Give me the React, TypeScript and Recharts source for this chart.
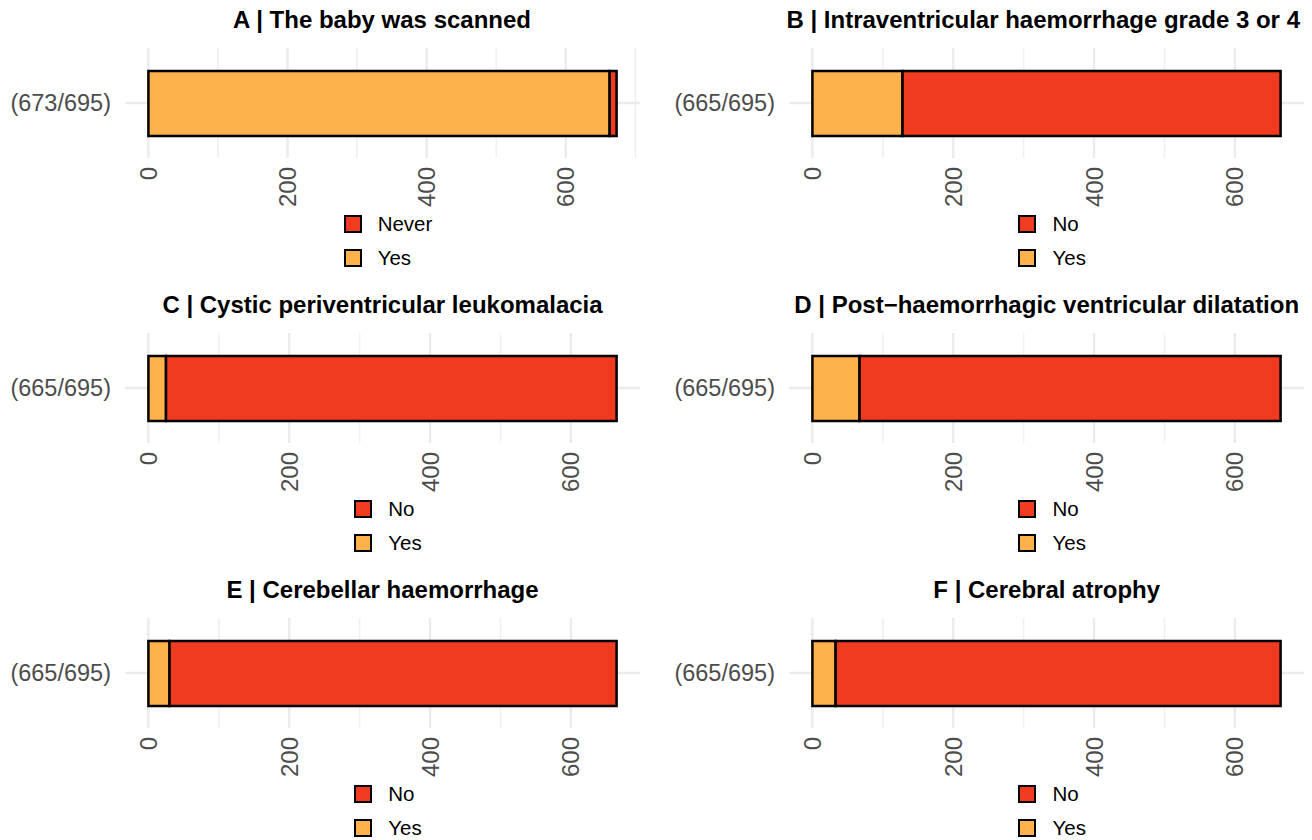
import React from 'react';
import { BarChart, Bar, XAxis, YAxis, CartesianGrid, Legend } from 'recharts';

// one horizontal stacked bar per outcome
const panelTitles = [
  'A | The baby was scanned',
  'B | Intraventricular haemorrhage grade 3 or 4',
  'C | Cystic periventricular leukomalacia',
  'D | Post\u2212haemorrhagic ventricular dilatation',
  'E | Cerebellar haemorrhage',
  'F | Cerebral atrophy',
];
const responseLabels = ['(673/695)', '(665/695)', '(665/695)', '(665/695)', '(665/695)', '(665/695)'];
const yesCounts = [663, 128, 25, 67, 30, 33];
const otherCounts = [10, 537, 640, 598, 635, 632];
const otherNames = ['Never', 'No', 'No', 'No', 'No', 'No'];
const majorTicks = [0, 200, 400, 600];
const minorTicks = [100, 300, 500, 700];

const YES_FILL = '#FEB24C';
const OTHER_FILL = '#F03B20';
const FONT = "'Liberation Sans', Arial, Helvetica, sans-serif";

const CHART_W = 656;
const CHART_H = 285;
const COL_STEP = 664.2;
const ROW_STEP = 285;
const Y_AXIS_W = 125;
const PLOT_W = 515;
const TITLE_FONT = `bold 24px ${FONT}`;

const ctx = typeof document !== 'undefined' ? document.createElement('canvas').getContext('2d') : null;
const textWidth = (text: string) => {
  if (!ctx) return 0;
  ctx.font = TITLE_FONT;
  return ctx.measureText(text).width;
};

const RotatedTick = ({ x, y, payload }: any) => (
  <text
    x={x}
    y={y}
    transform={`rotate(-90, ${x}, ${y})`}
    textAnchor="end"
    dominantBaseline="central"
    fill="#4d4d4d"
    fontSize={24}
    fontFamily={FONT}
  >
    {payload.value}
  </text>
);

const legendColors: Record<string, string> = { Yes: YES_FILL, Other: OTHER_FILL };

// "No"/"Never" above "Yes", as in the fill scale
const StackLegend = ({ payload }: any) => {
  const items = [...(payload || [])].sort((a: any, b: any) => (a.dataKey === 'Other' ? -1 : b.dataKey === 'Other' ? 1 : 0));
  return (
    <div style={{ display: 'flex', justifyContent: 'center' }}>
      <div style={{ display: 'flex', flexDirection: 'column', gap: 16 }}>
        {items.map((entry: any) => (
          <div key={entry.dataKey} style={{ display: 'flex', alignItems: 'center', height: 18 }}>
            <span
              style={{
                width: 14,
                height: 14,
                background: legendColors[entry.dataKey] || entry.color,
                border: '2px solid #000',
                marginRight: 16,
                display: 'inline-block',
              }}
            />
            <span style={{ fontSize: 20.5, color: '#000', fontFamily: FONT }}>{entry.value}</span>
          </div>
        ))}
      </div>
    </div>
  );
};

function Panel({ idx }: { idx: number }) {
  const col = idx % 2;
  const row = Math.floor(idx / 2);
  const left = col * COL_STEP;
  const top = row * ROW_STEP;
  const yes = yesCounts[idx];
  const other = otherCounts[idx];
  const total = yes + other;
  const lo = -0.05 * total;
  const hi = 1.05 * total;
  const data = [{ label: responseLabels[idx], Yes: yes, Other: other }];

  // centre the title over the panel, but keep it inside the page
  const title = panelTitles[idx];
  const tw = textWidth(title);
  const centre = Y_AXIS_W + PLOT_W / 2;
  const titleLeft = Math.min(centre - tw / 2, 1300 - left - tw);

  return (
    <div style={{ position: 'absolute', left, top, width: CHART_W, height: CHART_H }}>
      <div
        style={{
          position: 'absolute',
          top: 8,
          left: titleLeft,
          font: TITLE_FONT,
          lineHeight: 1,
          whiteSpace: 'nowrap',
          color: '#000',
        }}
      >
        {title}
      </div>
      <BarChart
        width={CHART_W}
        height={CHART_H}
        data={data}
        layout="vertical"
        margin={{ top: 48, right: CHART_W - Y_AXIS_W - PLOT_W, bottom: 67, left: 0 }}
      >
        <CartesianGrid xAxisId="minor" horizontal={false} syncWithTicks stroke="#f0f0f0" strokeWidth={1.6} />
        <CartesianGrid syncWithTicks stroke="#ebebeb" strokeWidth={2.5} />
        <XAxis
          xAxisId="minor"
          type="number"
          domain={[lo, hi]}
          allowDataOverflow
          ticks={minorTicks.filter(t => t <= hi)}
          hide
        />
        <XAxis
          type="number"
          domain={[lo, hi]}
          allowDataOverflow
          ticks={majorTicks}
          axisLine={false}
          tickLine={false}
          tickSize={0}
          tickMargin={9}
          height={60}
          tick={<RotatedTick />}
          interval={0}
        />
        <YAxis
          type="category"
          dataKey="label"
          width={Y_AXIS_W}
          axisLine={false}
          tickLine={false}
          tickSize={0}
          tickMargin={14}
          tick={{ fill: '#4d4d4d', fontSize: 23.5, fontFamily: FONT }}
        />
        <Legend
          layout="vertical"
          align="center"
          verticalAlign="middle"
          content={<StackLegend />}
          wrapperStyle={{ top: 215, left: 238, width: 300 }}
        />
        <Bar dataKey="Yes" name="Yes" stackId="s" fill={YES_FILL} stroke="#000" strokeWidth={2.5} barSize={65} isAnimationActive={false} />
        <Bar dataKey="Other" name={otherNames[idx]} stackId="s" fill={OTHER_FILL} stroke="#000" strokeWidth={2.5} barSize={65} isAnimationActive={false} />
      </BarChart>
    </div>
  );
}

export default function App() {
  return (
    <div style={{ position: 'absolute', left: 0, top: 0, width: 1312, height: 840, background: '#fff', overflow: 'hidden' }}>
      {panelTitles.map((_, i) => (
        <Panel key={i} idx={i} />
      ))}
    </div>
  );
}
